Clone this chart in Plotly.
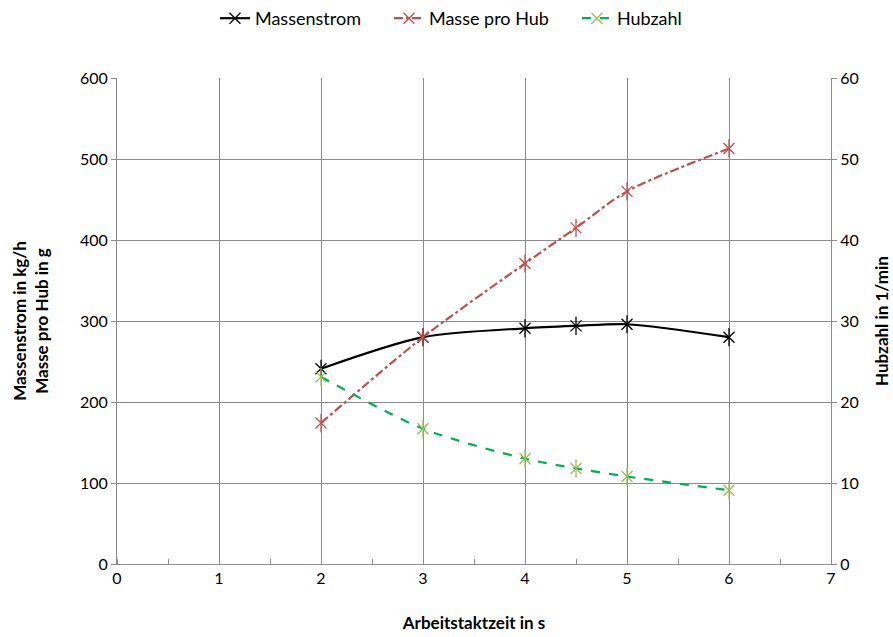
import plotly.graph_objects as go

# Arbeitstaktzeit (s) und Messwerte
zeit = [2, 3, 4, 4.5, 5, 6]
massenstrom = [241, 280, 291, 294, 296, 280]        # kg/h
masse_pro_hub = [174, 280, 371, 415, 460, 513]      # g
hubzahl = [23.1, 16.7, 13.0, 11.8, 10.8, 9.1]       # 1/min

x_ticks = [0, 1, 2, 3, 4, 5, 6, 7]
y_ticks_left = [0, 100, 200, 300, 400, 500, 600]
y_ticks_right = [0, 10, 20, 30, 40, 50, 60]

FONT = "Lato"
GRID = "#8c8c8c"
FS = 16
FT = 17
PAD = "\u00a0" * 5

fig = go.Figure()


def add_series(x, y, name, line_color, marker_color, dash, yaxis="y"):
    fig.add_trace(go.Scatter(
        x=x, y=y, name=name, yaxis=yaxis, mode="lines+markers",
        line=dict(color=line_color, width=2.2, dash=dash, shape="spline", smoothing=0.8),
        marker=dict(symbol="x-thin-open", size=11, color=marker_color,
                    line=dict(color=marker_color, width=1.3)),
    ))
    # vertical stroke completes the asterisk marker
    fig.add_trace(go.Scatter(
        x=x, y=y, yaxis=yaxis, mode="markers", showlegend=False, hoverinfo="skip",
        marker=dict(symbol="line-ns-open", size=13, color=marker_color,
                    line=dict(color=marker_color, width=1.3)),
    ))


add_series(zeit, massenstrom, "Massenstrom" + PAD, "black", "black", "solid")
add_series(zeit, masse_pro_hub, "Masse pro Hub" + PAD, "#C0504D", "#C0504D", "dashdot")
add_series(zeit, hubzahl, "Hubzahl", "#00B050", "#9BBB59", "dash", yaxis="y2")

fig.update_layout(
    width=893, height=637,
    margin=dict(l=117, r=62, t=78, b=73),
    paper_bgcolor="white", plot_bgcolor="white",
    font=dict(family=FONT, size=FS, color="black"),
    showlegend=True,
    legend=dict(
        orientation="h", xref="container", yref="container",
        x=0.505, xanchor="center", y=1.0, yanchor="top",
        font=dict(family=FONT, size=18), traceorder="normal",
    ),
    xaxis=dict(
        range=[0, 7], tickvals=x_ticks, ticktext=[str(v) for v in x_ticks],
        showgrid=True, gridcolor=GRID, gridwidth=1,
        showline=True, linecolor=GRID, linewidth=1,
        ticks="", zeroline=False, automargin=False,
        minor=dict(dtick=0.5, ticks="inside", ticklen=5, tickcolor=GRID, showgrid=False),
        tickfont=dict(family=FONT, size=FS),
        title=dict(text="<b>Arbeitstaktzeit in s</b>", font=dict(family=FONT, size=FT), standoff=30),
    ),
    yaxis=dict(
        range=[0, 600], tickvals=y_ticks_left,
        showgrid=True, gridcolor=GRID, gridwidth=1,
        showline=True, linecolor=GRID, linewidth=1,
        ticks="outside", ticklen=5, tickcolor=GRID, zeroline=False, automargin=False,
        tickfont=dict(family=FONT, size=FS),
        title=dict(text="<b>Massenstrom in kg/h<br>Masse pro Hub in g</b>",
                   font=dict(family=FONT, size=FT), standoff=26),
    ),
    yaxis2=dict(
        range=[0, 60], tickvals=y_ticks_right, overlaying="y", side="right",
        showgrid=False, showline=True, linecolor=GRID, linewidth=1,
        ticks="outside", ticklen=5, tickcolor=GRID, zeroline=False, automargin=False,
        tickfont=dict(family=FONT, size=FS),
        title=dict(text="<b>Hubzahl in 1/min</b>", font=dict(family=FONT, size=FT), standoff=18),
    ),
)

fig.write_html("out.html")
